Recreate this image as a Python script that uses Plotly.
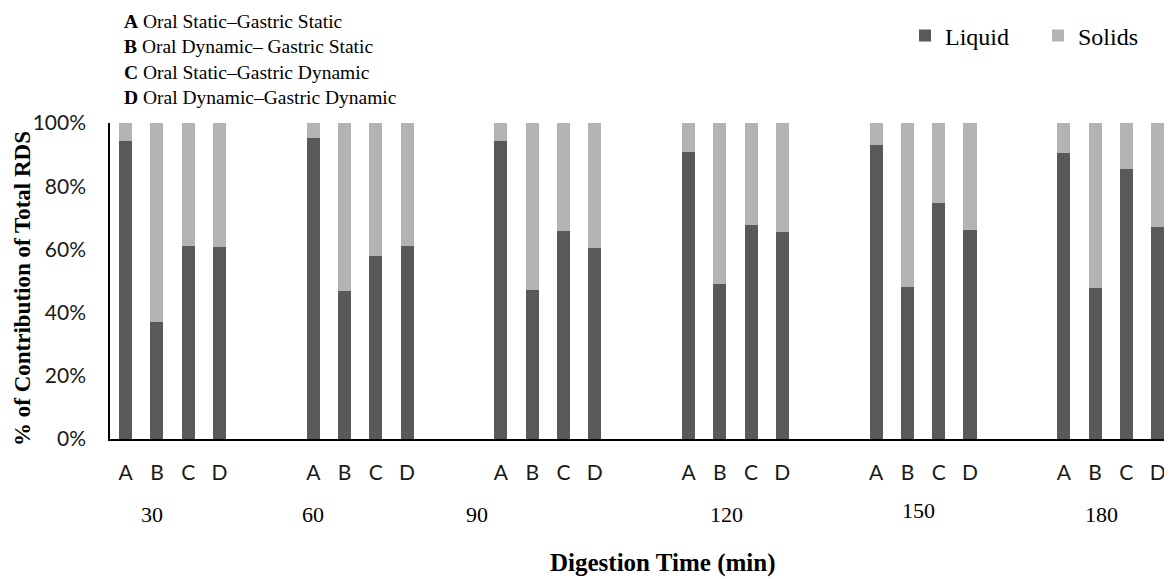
import plotly.graph_objects as go

# ---------------- data ----------------
times = ["30", "60", "90", "120", "150", "180"]
treatments = ["A", "B", "C", "D"]
treatment_desc = [
    "Oral Static–Gastric Static",
    "Oral Dynamic– Gastric Static",
    "Oral Static–Gastric Dynamic",
    "Oral Dynamic–Gastric Dynamic",
]
# % contribution of liquid phase, per time (rows) and treatment A-D (cols)
liquid = [
    [94.2, 36.9, 61.2, 60.8],
    [95.4, 46.7, 58.0, 61.2],
    [94.2, 47.2, 65.7, 60.4],
    [90.9, 48.9, 67.8, 65.4],
    [93.1, 48.0, 74.8, 66.2],
    [90.5, 47.7, 85.6, 67.1],
]
# % contribution of solids phase
solids = [
    [5.8, 63.1, 38.8, 39.2],
    [4.6, 53.3, 42.0, 38.8],
    [5.8, 52.8, 34.3, 39.6],
    [9.1, 51.1, 32.2, 34.6],
    [6.9, 52.0, 25.2, 33.8],
    [9.5, 52.3, 14.4, 32.9],
]
y_ticks = [0, 20, 40, 60, 80, 100]

# ---------------- layout constants ----------------
OFF = 8                        # page body margin
W, H = 1172 - OFF, 579 - OFF
ML, MR, MT, MB = 110 - OFF, 0, 123 - OFF, 579 - 439
PW, PH = W - ML - MR, H - MT - MB
SLOTS = 6                     # 4 bars + 2 empty slots per time group
label_offsets = [0.84, -0.02, -0.75, 1.22, 1.36, 1.22]   # position of time labels within group
label_ypx = [514, 514, 514, 514, 511, 514]
SERIF = "Liberation Serif, Times New Roman, serif"
SANS = "Lato, Open Sans, sans-serif"


def px_x(px):
    return (px - OFF - ML) / PW


def px_y(py):
    return (H - MB - (py - OFF)) / PH


xs, ticktext, liq_vals, sol_vals = [], [], [], []
for g, t in enumerate(times):
    for k, tr in enumerate(treatments):
        xs.append(g * SLOTS + k)
        ticktext.append(tr)
        liq_vals.append(liquid[g][k])
        sol_vals.append(solids[g][k])

fig = go.Figure()
fig.add_trace(go.Bar(x=xs, y=liq_vals, name="Liquid", width=0.42,
                     marker=dict(color="#595959", line=dict(width=0))))
fig.add_trace(go.Bar(x=xs, y=sol_vals, name="Solids", width=0.42,
                     marker=dict(color="#b3b3b3", line=dict(width=0))))

annotations = []
for g, t in enumerate(times):
    annotations.append(dict(
        x=g * SLOTS + label_offsets[g], y=px_y(label_ypx[g]), xref="x", yref="paper",
        text=t, showarrow=False, xanchor="center", yanchor="middle",
        font=dict(family=SERIF, size=22, color="#000000")))

# treatment key at top-left (one text block)
key_text = "<br>".join(f"<b>{tr}</b> {desc}" for tr, desc in zip(treatments, treatment_desc))
annotations.append(dict(
    x=px_x(122), y=px_y(9), xref="paper", yref="paper",
    text=key_text, showarrow=False, xanchor="left", yanchor="top", align="left",
    font=dict(family=SERIF, size=19.5, color="#000000")))

# axis titles
annotations.append(dict(
    x=px_x(662), y=px_y(563), xref="paper", yref="paper",
    text="<b>Digestion Time (min)</b>", showarrow=False,
    xanchor="center", yanchor="middle",
    font=dict(family=SERIF, size=25, color="#000000")))
annotations.append(dict(
    x=px_x(22), y=px_y(289), xref="paper", yref="paper",
    text="<b>% of Contribution of Total RDS</b>", showarrow=False, textangle=-90,
    xanchor="center", yanchor="middle",
    font=dict(family=SERIF, size=23, color="#000000")))

fig.update_layout(
    width=W, height=H, autosize=False,
    margin=dict(l=ML, r=MR, t=MT, b=MB, pad=0),
    barmode="stack",
    plot_bgcolor="white", paper_bgcolor="white",
    annotations=annotations,
    legend=dict(orientation="h", xref="container", yref="container",
                x=(905 - OFF) / W, y=1 - (36 - OFF) / H, xanchor="left", yanchor="middle",
                font=dict(family=SERIF, size=24, color="#000000"),
                traceorder="normal", entrywidth=88, entrywidthmode="pixels",
                itemwidth=30, bgcolor="rgba(0,0,0,0)"),
    xaxis=dict(range=[-0.5, 33.46], tickmode="array", tickvals=xs, ticktext=ticktext,
               tickfont=dict(family=SANS, size=21, color="#1a1a1a"),
               showline=True, linecolor="black", linewidth=2,
               showgrid=False, zeroline=False, ticks="", ticklabelstandoff=14),
    yaxis=dict(range=[0, 100], tickmode="array", tickvals=y_ticks,
               ticktext=[f"{v}%" for v in y_ticks],
               tickfont=dict(family=SANS, size=21, color="#1a1a1a"),
               showline=True, linecolor="black", linewidth=1.5,
               showgrid=False, zeroline=False, ticks="", ticklabelstandoff=18),
)

fig.write_html("out.html")
